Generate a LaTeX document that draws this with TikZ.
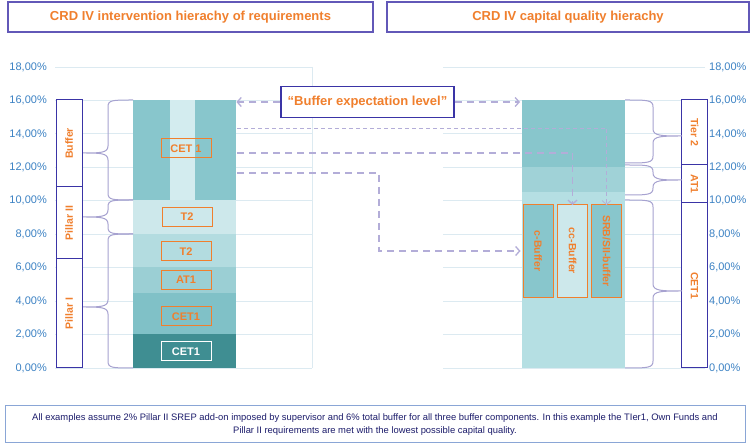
\documentclass[tikz,border=0pt]{standalone}
\usepackage{fontspec}
\setmainfont{Liberation Sans}
\usetikzlibrary{arrows.meta}
\definecolor{orangeT}{HTML}{F07F2D}
\definecolor{axisblue}{HTML}{3C82C4}
\definecolor{navy}{HTML}{3A34A6}
\definecolor{titleb}{HTML}{6258B8}
\definecolor{gridc}{HTML}{DCEAF1}
\definecolor{brc}{HTML}{A7A2D0}
\definecolor{dashc}{HTML}{B3ADD8}
\definecolor{tealD}{HTML}{3F8E92}
\definecolor{tealA}{HTML}{80C1C7}
\definecolor{tealB}{HTML}{9BCFD4}
\definecolor{tealC}{HTML}{B3DCE0}
\definecolor{tealE}{HTML}{CDE8EB}
\definecolor{tealF}{HTML}{88C6CC}
\definecolor{tealG}{HTML}{D3ECEF}
\definecolor{rmidc}{HTML}{A0D2D7}
\definecolor{rbotc}{HTML}{B5DFE3}
\definecolor{notec}{HTML}{1C1C6B}
\definecolor{noteb}{HTML}{8AA6D6}
\newcommand\mybrL[3]{\draw[bracel] (133,#1) .. controls (112,#1) and (108,#1) .. (108,{#1+7}) -- (108,{#2-7}) .. controls (108,#2) and (100,#2) .. (83,#2) .. controls (100,#2) and (108,#2) .. (108,{#2+7}) -- (108,{#3-7}) .. controls (108,#3) and (112,#3) .. (133,#3);}
\newcommand\mybrR[3]{\draw[bracel] (625,#1) .. controls (648,#1) and (653,#1) .. (653,{#1+7}) -- (653,{#2-7}) .. controls (653,#2) and (662,#2) .. (682,#2) .. controls (662,#2) and (653,#2) .. (653,{#2+7}) -- (653,{#3-7}) .. controls (653,#3) and (648,#3) .. (625,#3);}
\begin{document}
\begin{tikzpicture}[x=1pt,y=-1pt,
  titlebox/.style={draw=titleb,line width=1.3pt,fill=white,text=orangeT,font=\bfseries\fontsize{13}{15}\selectfont,minimum height=30pt,inner sep=0},
  gridl/.style={draw=gridc,line width=0.8pt},
  axl/.style={text=axisblue,font=\fontsize{11}{13}\selectfont,inner sep=0},
  seg/.style={anchor=north west,inner sep=0,minimum width=103pt,draw=none},
  lbl/.style={draw=orangeT,line width=1pt,minimum width=50pt,minimum height=19pt,inner sep=0,text=orangeT,font=\bfseries\fontsize{11}{13}\selectfont},
  colbox/.style={draw=navy,line width=1pt,fill=white,minimum height=26pt,inner sep=0,text=orangeT,font=\bfseries\fontsize{10.5}{12}\selectfont},
  bufbox/.style={draw=orangeT,line width=1pt,minimum width=93pt,minimum height=30pt,inner sep=0,rotate=-90,text=orangeT,font=\bfseries\fontsize{10.5}{12}\selectfont},
  bracel/.style={draw=brc,line width=1pt},
  dthick/.style={draw=dashc,line width=1.3pt,dash pattern=on 7pt off 5pt,-{Straight Barb[length=4pt,width=9pt]}},
  dthin/.style={draw=dashc,line width=0.7pt,dash pattern=on 4pt off 3pt,-{Straight Barb[length=4pt,width=9pt]}}
]
\useasboundingbox (0,0) rectangle (750,443);
\fill[white] (0,0) rectangle (750,443);

% titles
\node[titlebox,minimum width=365pt] (t1) at (190.5,17) {CRD IV intervention hierachy of requirements};
\node[titlebox,minimum width=362pt] (t2) at (568,17) {CRD IV capital quality hierachy};

% grid and axes
\foreach \k in {0,...,9}{
  \pgfmathsetmacro\yy{368-33.444*\k}
  \pgfmathtruncatemacro\pc{2*\k}
  \draw[gridl] (55,\yy) -- (312,\yy);
  \draw[gridl] (443,\yy) -- (705,\yy);
  \node[axl,anchor=east] (al\k) at (47,\yy) {\pc,00\%};
  \node[axl,anchor=west] (ar\k) at (709,\yy) {\pc,00\%};
}
\draw[gridl] (312,67) -- (312,368);

% left bar
\node[seg,fill=tealD,minimum height=34pt] (l0) at (133,334) {};
\node[seg,fill=tealA,minimum height=41pt] (l1) at (133,293) {};
\node[seg,fill=tealB,minimum height=26pt] (l2) at (133,267) {};
\node[seg,fill=tealC,minimum height=33pt] (l3) at (133,234) {};
\node[seg,fill=tealE,minimum height=34pt] (l4) at (133,200) {};
\node[seg,fill=tealG,minimum height=100pt] (lbuf) at (133,100) {};
\node[seg,fill=tealF,minimum height=100pt,minimum width=37pt] (lsa) at (133,100) {};
\node[seg,fill=tealF,minimum height=100pt,minimum width=41pt] (lsb) at (195,100) {};

\node[lbl] (bx1) at (186,148.5) {CET 1};
\node[lbl] (bx2) at (187,217) {T2};
\node[lbl] (bx3) at (186,251.5) {T2};
\node[lbl] (bx4) at (186,280) {AT1};
\node[lbl] (bx5) at (186,316.5) {CET1};
\node[lbl,draw=white,text=white] (bx6) at (186,351.5) {CET1};

% left column boxes
\node[colbox,rotate=90,minimum width=87pt] (cbuf) at (69,143.5) {Buffer};
\node[colbox,rotate=90,minimum width=72pt] (cp2) at (69,223) {Pillar II};
\node[colbox,rotate=90,minimum width=109pt] (cp1) at (69,313.5) {Pillar I};

% left braces
\mybrL{100}{153}{200}
\mybrL{200}{217}{234}
\mybrL{234}{307}{368}

% right bar
\node[seg,fill=tealF,minimum height=67pt] (rtop) at (522,100) {};
\node[seg,fill=rmidc,minimum height=25pt] (rmid) at (522,167) {};
\node[seg,fill=rbotc,minimum height=176pt] (rbot) at (522,192) {};
\node[bufbox,fill=tealF] (cb) at (538,251) {c-Buffer};
\node[bufbox,fill=tealE] (ccb) at (572.5,251) {cc-Buffer};
\node[bufbox,fill=tealF] (srb) at (606.5,251) {SRB/SII-buffer};

% right column boxes
\node[colbox,rotate=-90,minimum width=65pt] (rt2) at (694.5,132.5) {Tier 2};
\node[colbox,rotate=-90,minimum width=38pt] (rat) at (694.5,184) {AT1};
\node[colbox,rotate=-90,minimum width=165pt] (rcet) at (694.5,285.5) {CET1};

% right braces
\mybrR{100}{136}{163}
\mybrR{165}{180}{195}
\mybrR{200}{291}{368}

% buffer expectation level
\node[draw=navy,line width=1.2pt,fill=white,minimum width=173pt,minimum height=31pt,inner sep=0,text=orangeT,font=\bfseries\fontsize{13}{15}\selectfont] (bel) at (367.5,102) {“Buffer expectation level”};
\draw[dthick] (bel.west) -- (bel.west -| lbuf.east);
\draw[dthick] (bel.east) -- ([xshift=-2pt]bel.east -| rtop.west);

% dashed connectors
\coordinate (d1) at (237,128);
\coordinate (d2) at (237,153);
\coordinate (d3) at (237,173);
\coordinate (k1) at (379,173);
\draw[dthin] (d1) -| ([yshift=-1pt]srb.west);
\draw[dthick] (d2) -| ([yshift=-1pt]ccb.west);
\draw[dthick] (d3) -- (k1) |- ([xshift=-2pt]cb.south);

% note
\node[draw=noteb,line width=1pt,minimum width=740pt,minimum height=37pt,inner sep=0,align=center,text=notec,font=\fontsize{9.4}{12.5}\selectfont] (note) at (375,424.5) {All examples assume 2\% Pillar II SREP add-on imposed by supervisor and 6\% total buffer for all three buffer components. In this example the TIer1, Own Funds and\\Pillar II requirements are met with the lowest possible capital quality.};
\end{tikzpicture}
\end{document}
